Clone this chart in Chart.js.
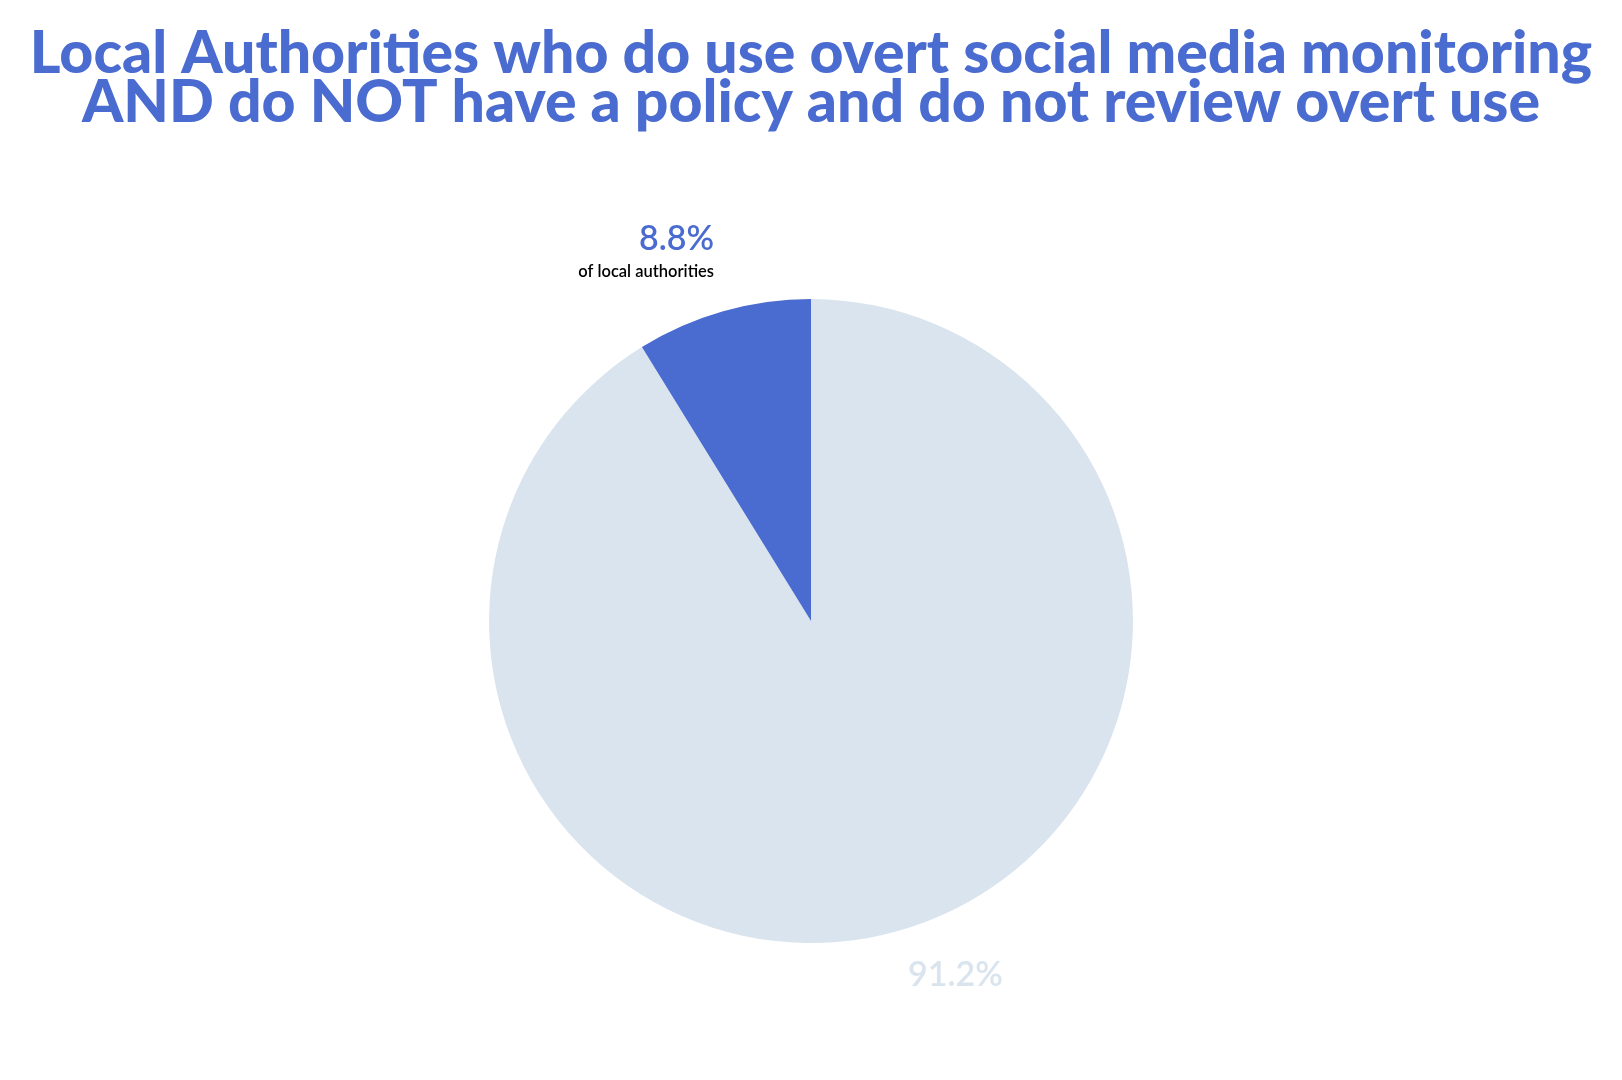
<!DOCTYPE html>
<html>
<head>
<meta charset="utf-8">
<script src="https://cdn.jsdelivr.net/npm/chart.js@4"></script>
<style>
html,body{margin:0;padding:0;background:#fff;}
#wrap{width:1622px;height:1080px;position:relative;}
</style>
</head>
<body>
<div id="wrap"><canvas id="c" width="1622" height="1080"></canvas></div>
<script>
const categories = ["Do not have a policy and do not review overt use", "Other local authorities"];
const values = [8.8, 91.2];
const valueLabels = ["8.8%", "91.2%"];
const subLabel = "of local authorities";
const titleLines = ["Local Authorities who do use overt social media monitoring", "AND do NOT have a policy and do not review overt use"];
const colors = ["#4A6BCF", "#D9E4EE"];

// Draw order: light slice first (clockwise from top), then blue slice ending at top
const order = [1, 0];

const labelPlugin = {
  id: 'labels',
  afterDatasetsDraw(chart) {
    const ctx = chart.ctx;
    const meta = chart.getDatasetMeta(0);
    const arcBlue = meta.data[order.indexOf(0)];
    const cx = arcBlue.x, cy = arcBlue.y, r = arcBlue.outerRadius;
    ctx.save();
    ctx.fillStyle = colors[0];
    ctx.font = '600 34px "Lato", sans-serif';
    ctx.textAlign = 'right';
    ctx.textBaseline = 'middle';
    ctx.fillText(valueLabels[0], cx - 97, cy - r - 60);
    ctx.fillStyle = '#000';
    ctx.font = '600 16.5px "Lato", sans-serif';
    ctx.fillText(subLabel, cx - 97, cy - r - 27);
    ctx.fillStyle = colors[1];
    ctx.font = '600 34px "Lato", sans-serif';
    ctx.textAlign = 'left';
    ctx.fillText(valueLabels[1], cx + 97, cy + r + 32);
    ctx.restore();
  }
};

new Chart(document.getElementById('c'), {
  type: 'pie',
  data: {
    labels: order.map(i => categories[i]),
    datasets: [{
      data: order.map(i => values[i]),
      backgroundColor: order.map(i => colors[i]),
      borderWidth: 0
    }]
  },
  options: {
    responsive: false,
    animation: false,
    layout: { padding: { top: 0, bottom: 137, left: 0, right: 0 } },
    plugins: {
      legend: { display: false },
      tooltip: { enabled: false },
      title: {
        display: true,
        text: titleLines,
        color: '#4A6BCF',
        font: { family: '"Lato", sans-serif', size: 59, weight: '900', lineHeight: 0.84 },
        padding: { top: 29, bottom: 171 }
      }
    }
  },
  plugins: [labelPlugin]
});
</script>
</body>
</html>
